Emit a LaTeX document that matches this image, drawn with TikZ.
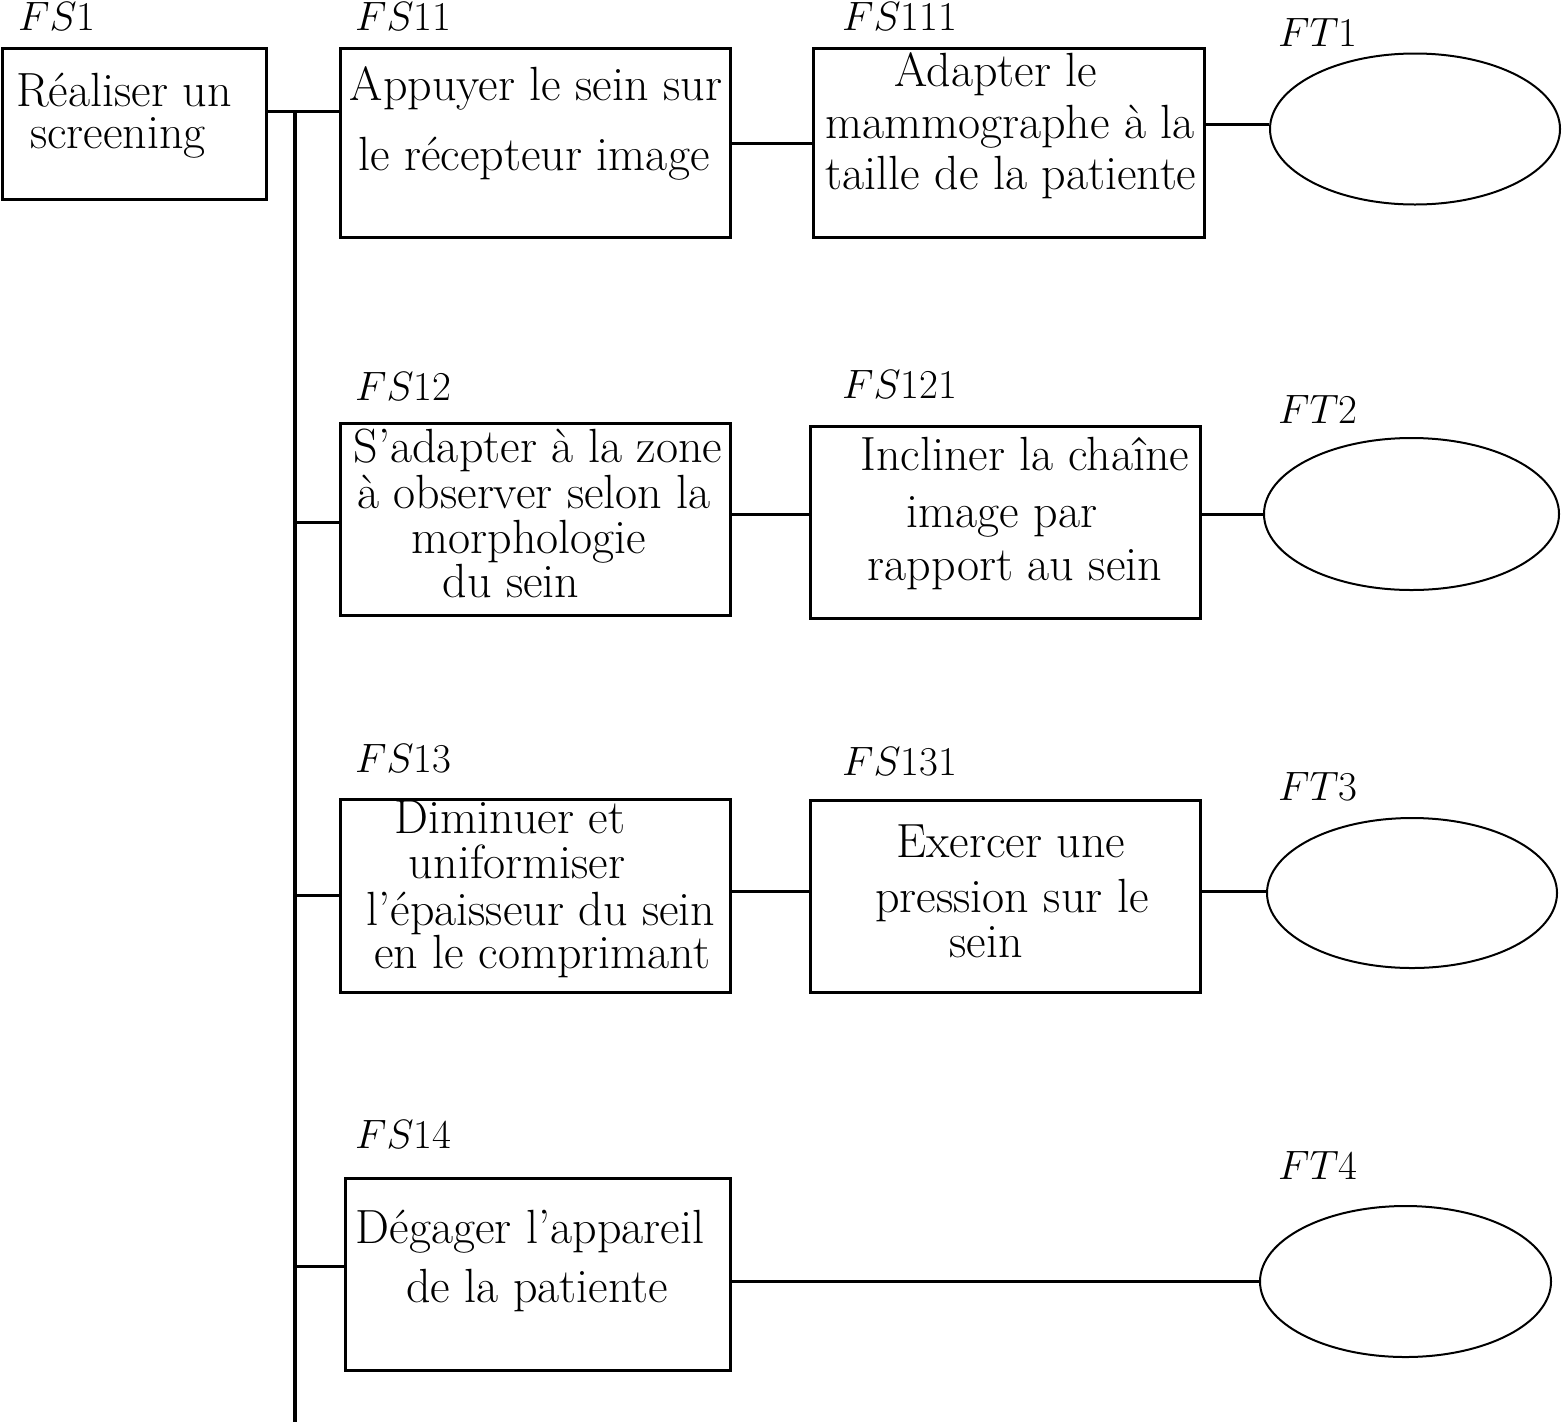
\RequirePackage{fix-cm}
\documentclass[tikz,border=0pt]{standalone}
\usetikzlibrary{shapes.geometric}
\begin{document}
\begin{tikzpicture}[x=1pt,y=-1pt,
  box/.style={draw, rectangle, line width=3pt, inner sep=0pt},
  oval/.style={draw, ellipse, line width=2pt, inner sep=0pt},
  conn/.style={line width=3pt},
  spine/.style={line width=3.5pt},
  lbl/.style={anchor=base west, inner sep=0pt, font=\fontsize{41}{41}\selectfont},
  txt/.style={anchor=base, inner sep=0pt, text height=0.62em, text depth=0.08em, font=\fontsize{48}{48}\selectfont}]
\useasboundingbox (0,0) rectangle (1562,1422);
% boxes
\node[box, minimum width=264pt, minimum height=151pt] (fs1) at (134,123.5) {};
\node[box, minimum width=390pt, minimum height=189pt] (fs11) at (535,142.5) {};
\node[box, minimum width=391pt, minimum height=189pt] (fs111) at (1008.5,142.5) {};
\node[oval, minimum width=290pt, minimum height=151pt] (ft1) at (1415,129) {};
\node[box, minimum width=390pt, minimum height=192pt] (fs12) at (535,519) {};
\node[box, minimum width=390pt, minimum height=192pt] (fs121) at (1005,522) {};
\node[oval, minimum width=295pt, minimum height=152pt] (ft2) at (1411.5,514) {};
\node[box, minimum width=390pt, minimum height=193pt] (fs13) at (535,895.5) {};
\node[box, minimum width=390pt, minimum height=192pt] (fs131) at (1005,896) {};
\node[oval, minimum width=290pt, minimum height=150pt] (ft3) at (1412,893) {};
\node[box, minimum width=385pt, minimum height=192pt] (fs14) at (537.5,1274) {};
\node[oval, minimum width=291pt, minimum height=151pt] (ft4) at (1405.5,1281.5) {};
% labels
\node[lbl] (l1) at (18,30) {$FS$1};
\node[lbl] (l11) at (355,30) {$FS$11};
\node[lbl] (l111) at (842,30) {$FS$111};
\node[lbl] (lt1) at (1278,46) {$FT$1};
\node[lbl] (l12) at (355,400) {$FS$12};
\node[lbl] (l121) at (842,398) {$FS$121};
\node[lbl] (lt2) at (1278,423) {$FT$2};
\node[lbl] (l13) at (355,772) {$FS$13};
\node[lbl] (l131) at (842,775) {$FS$131};
\node[lbl] (lt3) at (1278,800) {$FT$3};
\node[lbl] (l14) at (355,1148) {$FS$14};
\node[lbl] (lt4) at (1278,1179) {$FT$4};
% texts
\node[txt] (t1a) at (124,106) {Réaliser un};
\node[txt] (t1b) at (118,148) {screening};
\node[txt] (t11a) at (536,100) {Appuyer le sein sur};
\node[txt] (t11b) at (534,170) {le récepteur image};
\node[txt] (t111a) at (996,86) {Adapter le};
\node[txt] (t111b) at (1010,138) {mammographe à la};
\node[txt] (t111c) at (1011,189) {taille de la patiente};
\node[txt] (t12a) at (538,462) {S’adapter à la zone};
\node[txt] (t12b) at (534,508) {à observer selon la};
\node[txt] (t12c) at (529,553) {morphologie};
\node[txt] (t12d) at (511,597) {du sein};
\node[txt] (t121a) at (1025,470) {Incliner la chaîne};
\node[txt] (t121b) at (1002,527) {image par};
\node[txt] (t121c) at (1015,580) {rapport au sein};
\node[txt] (t13a) at (510,833) {Diminuer et};
\node[txt] (t13b) at (517,878) {uniformiser};
\node[txt] (t13c) at (541,925) {l’épaisseur du sein};
\node[txt] (t13d) at (542,968) {en le comprimant};
\node[txt] (t131a) at (1011,857) {Exercer une};
\node[txt] (t131b) at (1012,912) {pression sur le};
\node[txt] (t131c) at (986,957) {sein};
\node[txt] (t14a) at (530,1243) {Dégager l’appareil};
\node[txt] (t14b) at (537,1302) {de la patiente};
% spine
\coordinate (j0) at (295,111);
\coordinate (j2) at (295,522);
\coordinate (j3) at (295,895);
\coordinate (j4) at (295,1266);
\coordinate (jend) at (295,1422);
\draw[spine] (j0) -- (jend);
% connectors
\draw[conn] (j0 -| fs1.east) -- (j0 -| fs11.west);
\draw[conn] (j2) -- (j2 -| fs12.west);
\draw[conn] (j3) -- (j3 -| fs13.west);
\draw[conn] (j4) -- (j4 -| fs14.west);
\coordinate (r1) at (0,143);
\coordinate (r1b) at (0,124);
\coordinate (r2) at (0,514);
\coordinate (r3) at (0,891);
\draw[conn] (r1 -| fs11.east) -- (r1 -| fs111.west);
\draw[conn] (r1b -| fs111.east) -- (r1b -| ft1.west);
\draw[conn] (r2 -| fs12.east) -- (r2 -| fs121.west);
\draw[conn] (fs121.east |- ft2.west) -- (ft2.west);
\draw[conn] (r3 -| fs13.east) -- (r3 -| fs131.west);
\draw[conn] (r3 -| fs131.east) -- (r3 -| ft3.west);
\draw[conn] (fs14.east |- ft4.west) -- (ft4.west);
\end{tikzpicture}
\end{document}
